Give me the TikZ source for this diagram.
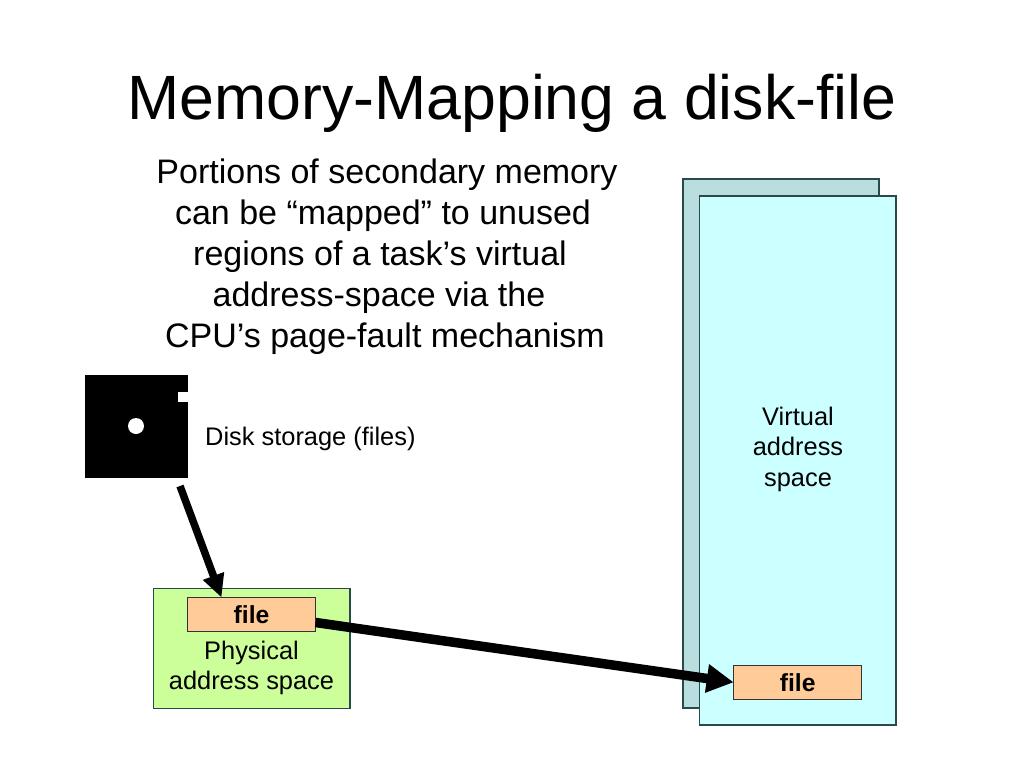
\documentclass[tikz,border=0pt]{standalone}
\usepackage{fontspec}
\setmainfont{Liberation Sans}
\usetikzlibrary{arrows.meta,calc}
\definecolor{edgec}{HTML}{2A4A4A}
\definecolor{backc}{HTML}{BADDE0}
\definecolor{frontc}{HTML}{CCFFFF}
\definecolor{greenc}{HTML}{CCFF99}
\definecolor{filec}{HTML}{FFCC99}
\newcommand{\padright}[1]{\rule{#1pt}{0pt}}
\tikzset{
  x=1pt,y=-1pt,
  panel/.style={draw=edgec,line width=1.1pt,inner sep=0pt,outer sep=0pt,anchor=north west},
  filebox/.style={draw=black!80,line width=1.1pt,fill=filec,inner sep=0pt,outer sep=0pt,minimum width=128pt,minimum height=34pt,font=\fontsize{24.7}{24.7}\selectfont\bfseries},
  caption/.style={inner sep=0pt,align=center,font=\fontsize{25.4}{30.5}\selectfont},
  arrowthin/.style={draw=black,-{Triangle[length=23pt,width=21pt]},line width=7.5pt},
  arrowthick/.style={draw=black,-{Triangle[length=27pt,width=27pt]},line width=9.5pt},
}
\begin{document}
\begin{tikzpicture}
\useasboundingbox (0,0) rectangle (1024,768);
\node[inner sep=0pt,font=\fontsize{62.6}{62.6}\selectfont] (title) at (512,103.5) {Memory-Mapping a disk-file};
\node[inner sep=0pt,align=center,font=\fontsize{34}{41}\selectfont] (intro) at (387,256.5) {Portions of secondary memory\\can be “mapped” to unused\padright{8}\\regions of a task’s virtual\padright{14}\\address-space via the\padright{16}\\CPU’s page-fault mechanism\padright{4}};
% disk
\fill[black] (85,375) rectangle (188,478);
\fill[white] (178,392) rectangle (188.5,402);
\fill[white] (136,426) circle (8);
\node[inner sep=0pt,anchor=west,font=\fontsize{25.4}{25.4}\selectfont] (disklabel) at (205,438.5) {Disk storage (files)};
% physical
\node[panel,fill=greenc,minimum width=196.5pt,minimum height=120pt] (phys) at (153.5,588.5) {};
\node[filebox] (pfile) at (251.5,614.5) {file};
\node[caption] (physlabel) at (251.5,668) {Physical\\address space};
% virtual
\node[panel,fill=backc,minimum width=196pt,minimum height=529pt] (vback) at (683,179) {};
\node[panel,fill=frontc,minimum width=196.5pt,minimum height=529pt] (vfront) at (699.5,196) {};
\node[caption] (virtlabel) at (798,449) {Virtual\\address\\space};
\node[filebox] (vfile) at (797.7,682.3) {file};
% arrows
\coordinate (diskout) at (180,486);
\coordinate (pin) at ($(pfile.north west)+(34,0)$);
\coordinate (pout) at ($(pfile.south east)+(0,-9)$);
\draw[arrowthin] (diskout) -- (pin);
\draw[arrowthick] (pout) -- (vfile.west);
\end{tikzpicture}
\end{document}
